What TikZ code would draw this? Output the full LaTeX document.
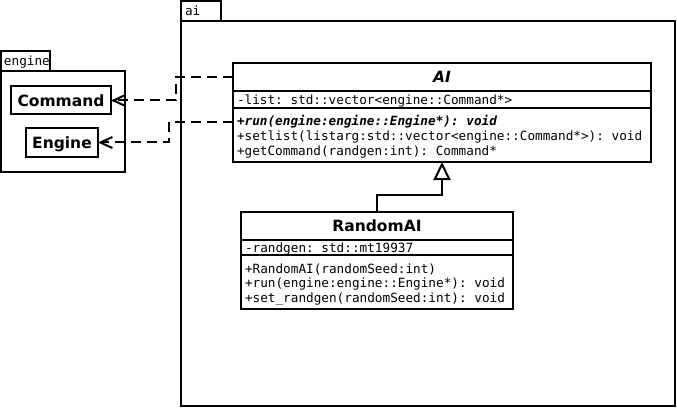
\documentclass[tikz,border=0pt]{standalone}
\usepackage{fontspec}
\setmainfont{DejaVu Sans}
\setsansfont{DejaVu Sans}
\setmonofont{DejaVu Sans Mono}
\usetikzlibrary{arrows.meta}
\begin{document}
\begin{tikzpicture}[x=1pt,y=-1pt,line width=2pt,
  box/.style={draw,line width=2pt,inner sep=0pt,outer sep=0pt,anchor=north west},
  mem/.style={font=\fontsize{12.7}{14}\selectfont\ttfamily,anchor=base west,inner sep=0pt},
  ttl/.style={font=\fontsize{15.5}{18}\selectfont\bfseries,inner sep=0pt},
  cls/.style={draw,line width=2pt,inner sep=0pt,outer sep=0pt,anchor=center,
    font=\fontsize{15.5}{18}\selectfont\bfseries,text height=11.3pt,text depth=0pt},
  dep/.style={line width=2pt,dash pattern=on 10pt off 6pt,-{Straight Barb[length=12pt,width=11pt,line width=2pt]}},
  gen/.style={line width=2pt,-{Triangle[open,length=18pt,width=17pt,line width=2pt,fill=white]}}]
\useasboundingbox (0,0) rectangle (677,409);
% engine package
\node[box,minimum width=49pt,minimum height=20pt] (etab) at (1,51) {};
\node[mem] (etabtxt) at (3,66) {engine};
\node[box,minimum width=124pt,minimum height=101pt] (epkg) at (1,71) {};
\node[cls,minimum width=100pt,minimum height=28pt] (cmd) at (61,100.5) {Command};
\node[cls,minimum width=72pt,minimum height=29pt] (eng) at (62,142.5) {Engine};
% ai package
\node[box,minimum width=40pt,minimum height=20pt] (aitab) at (181,1) {};
\node[mem] (aitabtxt) at (184,16) {ai};
\node[box,minimum width=494pt,minimum height=385pt] (aipkg) at (181,21) {};
% AI class
\node[box,minimum width=418pt,minimum height=28.4pt] (aiHead) at (233,63) {};
\node[box,minimum width=418pt,minimum height=17pt] (aiAttr) at (233,91.4) {};
\node[box,minimum width=418pt,minimum height=53.6pt] (aiOps) at (233,108.4) {};
\node[ttl,font=\fontsize{15.5}{18}\selectfont\bfseries\itshape] (aiT) at (aiHead.center) {AI};
\node[mem] (aiA1) at (236,105) {-list: std::vector<engine::Command*>};
\node[mem,font=\fontsize{12.7}{14}\selectfont\ttfamily\bfseries\itshape] (aiM1) at (236,126) {+run(engine:engine::Engine*): void};
\node[mem] (aiM2) at (236,140.5) {+setlist(listarg:std::vector<engine::Command*>): void};
\node[mem] (aiM3) at (236,155) {+getCommand(randgen:int): Command*};
% RandomAI class
\node[box,minimum width=272pt,minimum height=27.5pt] (rHead) at (241,212) {};
\node[box,minimum width=272pt,minimum height=15.9pt] (rAttr) at (241,239.5) {};
\node[box,minimum width=272pt,minimum height=53.6pt] (rOps) at (241,255.4) {};
\node[ttl] (rT) at (rHead.center) {RandomAI};
\node[mem] (rA1) at (244,252) {-randgen: std::mt19937};
\node[mem] (rM1) at (244,273) {+RandomAI(randomSeed:int)};
\node[mem] (rM2) at (244,287.5) {+run(engine:engine::Engine*): void};
\node[mem] (rM3) at (244,302) {+set\_randgen(randomSeed:int): void};
% connectors
\draw[gen] (rHead.north) -- ++(0,-17) -| (aiOps.south);
\draw[dep] (aiHead.west) -- ++(-57,0) |- (cmd.east);
\draw[dep] (aiOps.west |- aiM1.west) -- ++(-64,0) |- (eng.east);
\end{tikzpicture}
\end{document}
